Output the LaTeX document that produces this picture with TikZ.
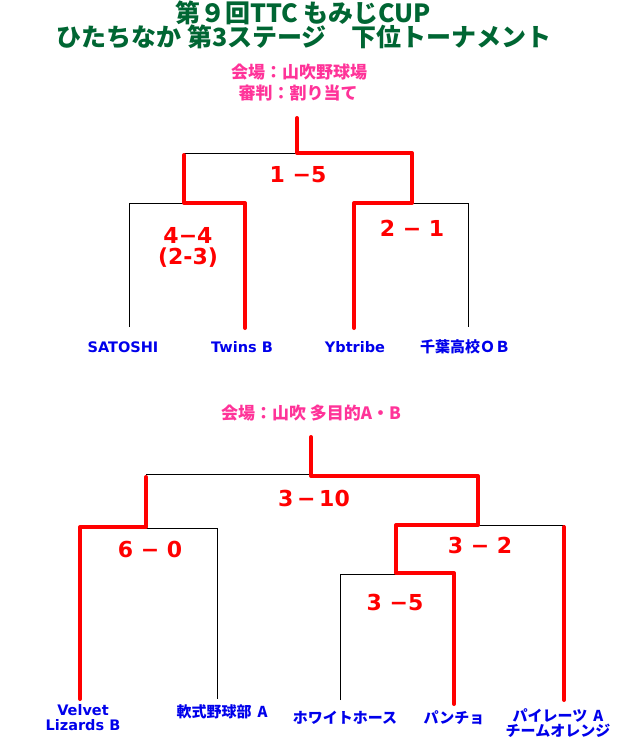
\documentclass[tikz,border=0pt]{standalone}
\usepackage{fontspec}
\setmainfont{DejaVu Sans}
\newfontfamily\jpfont{Noto Sans CJK JP}
\usepackage{tikz}
\definecolor{titlegreen}{RGB}{0,102,51}
\definecolor{venuepink}{RGB}{255,51,153}
\definecolor{teamblue}{RGB}{0,0,235}
\definecolor{winred}{RGB}{255,0,0}
\tikzset{
    winline/.style={winred,line width=4pt,line cap=round,line join=round},
    bracketline/.style={black,line width=0.8pt},
    team/.style={font=\bfseries\fontsize{14.5}{15}\selectfont,text=teamblue,align=center,inner sep=0pt},
    jpteam/.style={team,font=\jpfont\bfseries\fontsize{15}{15}\selectfont},
    score/.style={font=\bfseries\fontsize{22}{21}\selectfont,text=winred,align=center,inner sep=0pt},
    venue/.style={font=\jpfont\bfseries\fontsize{17}{18}\selectfont,text=venuepink,inner sep=0pt},
    titletext/.style={font=\jpfont\bfseries\fontsize{25}{26}\selectfont,text=titlegreen,inner sep=0pt}
}

\begin{document}
\begin{tikzpicture}[x=1pt,y=-1pt]
      \useasboundingbox[fill=white] (0,0) rectangle (616,755);
      % titles
      \node[titletext] (title1) at (303,13) {第９回TTC もみじCUP};
      \node[titletext] (title2) at (304,37) {ひたちなか 第3ステージ　下位トーナメント};
      \node[venue] (venue1) at (299,72) {会場：山吹野球場};
      \node[venue] (referee1) at (298,93) {審判：割り当て};
      % upper bracket
      \coordinate (u-top) at (297,118);
      \coordinate (u-final) at (297,153);
      \coordinate (u-left) at (184,153);
      \coordinate (u-right) at (412,153);
      \coordinate (u-sf1) at (184,203);
      \coordinate (u-sf2) at (412,203);
      \coordinate (satoshi-end) at (129,327);
      \coordinate (twins-end) at (245,328);
      \coordinate (ybtribe-end) at (354,328);
      \coordinate (chiba-end) at (468,327);
      \node[team] (satoshi) at (123,347) {SATOSHI};
      \node[team] (twins) at (242,347) {Twins B};
      \node[team] (ybtribe) at (355,347) {Ybtribe};
      \node[jpteam] (chiba) at (465,347) {千葉高校ＯＢ};
      \draw[bracketline] (u-left) -- (u-final);
      \draw[bracketline] (satoshi-end) |- (u-sf1);
      \draw[bracketline] (u-sf2) -| (chiba-end);
      \draw[winline] (twins-end) |- (u-sf1) -- ([yshift=-2pt]u-left);
      \draw[winline] (u-top) -- (u-final) -- (u-right) -- (u-sf2) -| (ybtribe-end);
      \node[score] (u-score-final) at (298,175) {1 −5};
      \node[score] (u-score-sf1) at (188,247) {4−4\\(2-3)};
      \node[score] (u-score-sf2) at (412,228) {2 − 1};
      % lower bracket
      \node[venue] (venue2) at (311,413) {会場：山吹 多目的A・B};
      \coordinate (l-top) at (311,437);
      \coordinate (l-final) at (311,474);
      \coordinate (l-left) at (146,474);
      \coordinate (l-right) at (478,476);
      \coordinate (l-sf1) at (146,527);
      \coordinate (l-sf2) at (478,525);
      \coordinate (l-qf) at (396,573);
      \coordinate (velvet-end) at (80,699);
      \coordinate (nanshiki-end) at (217,699);
      \coordinate (white-end) at (340,700);
      \coordinate (pancho-end) at (454,704);
      \coordinate (pirates-end) at (564,700);
      \node[team] (velvet) at (83,717.5) {Velvet\\Lizards B};
      \node[jpteam] (nanshiki) at (222,712) {軟式野球部\hspace{0.4em}A};
      \node[jpteam] (white) at (345,718) {ホワイトホース};
      \node[jpteam] (pancho) at (454,718) {パンチョ};
      \node[jpteam] (pirates) at (558,723) {パイレーツ\hspace{0.4em}A\\チームオレンジ};
      \draw[bracketline] (l-left) -- (l-final);
      \draw[bracketline] ([yshift=-1pt]l-sf1) -| (nanshiki-end);
      \draw[bracketline] (l-sf2) -| (pirates-end);
      \draw[bracketline] (white-end) |- ([yshift=-1pt]l-qf);
      \draw[winline] ([yshift=-3pt]l-left) -- (l-sf1) -| (velvet-end);
      \draw[winline] (l-top) -- ([yshift=-2pt]l-final) -- (l-right) -- (l-sf2) -| (l-qf) -| (pancho-end);
      \draw[winline] (pirates-end) -- ([yshift=-2pt]pirates-end |- l-sf2);
      \node[score] (l-score-final) at (314,498) {3\,−\,10};
      \node[score] (l-score-sf1) at (150,549) {6 − 0};
      \node[score] (l-score-sf2) at (480,545) {3 − 2};
      \node[score] (l-score-qf) at (395,602) {3 −5};
\end{tikzpicture}
\end{document}
